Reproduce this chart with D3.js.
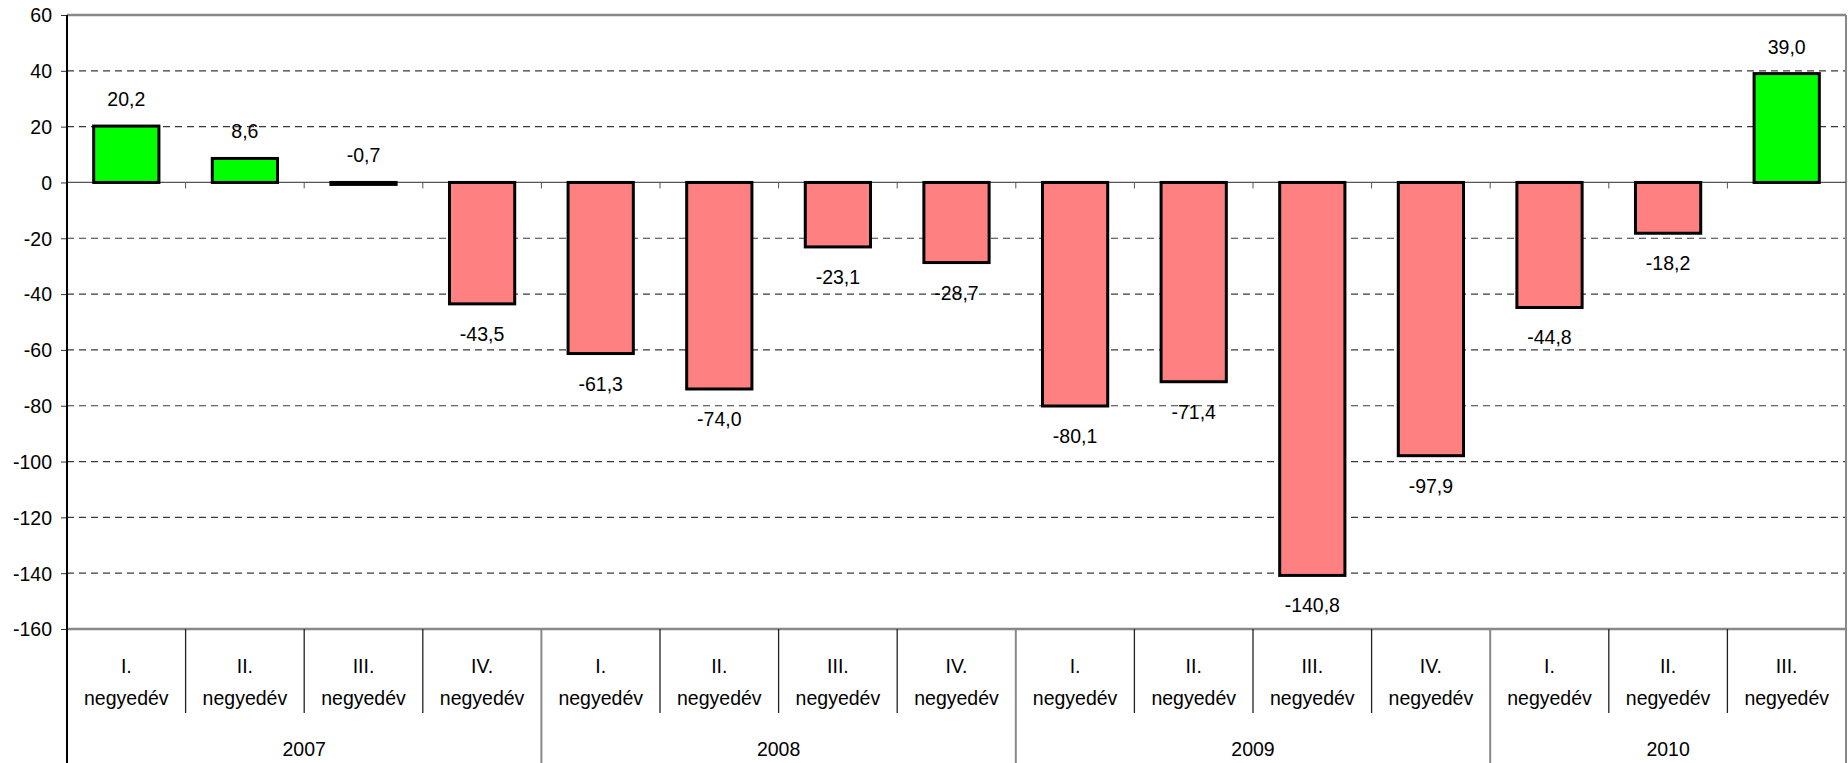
<!DOCTYPE html>
<html>
<head>
<meta charset="utf-8">
<script src="https://cdn.jsdelivr.net/npm/d3@7"></script>
<style>
body { margin: 0; background: #fff; }
text { font-family: "Liberation Sans", Arial, sans-serif; font-size: 19.5px; fill: #000; }
</style>
</head>
<body>
<div id="chart"></div>
<script>
// data
var quarters = ["I.", "II.", "III.", "IV.", "I.", "II.", "III.", "IV.", "I.", "II.", "III.", "IV.", "I.", "II.", "III."];
var years = ["2007", "2008", "2009", "2010"];
var yearSpan = [4, 4, 4, 3];
var values = [20.2, 8.6, -0.7, -43.5, -61.3, -74.0, -23.1, -28.7, -80.1, -71.4, -140.8, -97.9, -44.8, -18.2, 39.0];
var yTicks = [60, 40, 20, 0, -20, -40, -60, -80, -100, -120, -140, -160];

var svgWidth = 1848;
var svgHeight = 763;
var margin = {top: 15, right: 2, bottom: 134, left: 67};
var width = svgWidth - margin.left - margin.right;
var height = svgHeight - margin.top - margin.bottom;

var svg = d3.select("#chart")
    .append("svg")
    .attr("width", svgWidth)
    .attr("height", svgHeight);

var g = svg.append("g")
    .attr("transform", `translate(${margin.left},${margin.top})`);

var idx = values.map((d, i) => i);

var x = d3.scaleBand()
    .domain(idx)
    .range([0, width])
    .paddingInner(0.45)
    .paddingOuter(0.225);

var y = d3.scaleLinear()
    .domain([-160, 60])
    .range([height, 0]);

var step = width / values.length;

// dashed gridlines
g.selectAll(".grid")
    .data(yTicks.filter(d => d !== 0 && d !== 60 && d !== -160))
    .enter()
    .append("line")
    .attr("x1", 0)
    .attr("x2", width)
    .attr("y1", d => y(d))
    .attr("y2", d => y(d))
    .attr("stroke", "#3a3a3a")
    .attr("stroke-width", 1.2)
    .attr("stroke-dasharray", "7,5");

// frame: top, right in grey
g.append("line").attr("x1", 0).attr("x2", width).attr("y1", 0).attr("y2", 0)
    .attr("stroke", "#888").attr("stroke-width", 2.5);
g.append("line").attr("x1", width).attr("x2", width).attr("y1", 0).attr("y2", height)
    .attr("stroke", "#888").attr("stroke-width", 2);

// zero line with small ticks at category borders
g.append("line").attr("x1", 0).attr("x2", width).attr("y1", y(0)).attr("y2", y(0))
    .attr("stroke", "#555").attr("stroke-width", 1.2);
g.selectAll(".zt")
    .data(d3.range(1, values.length))
    .enter()
    .append("line")
    .attr("x1", d => d * step)
    .attr("x2", d => d * step)
    .attr("y1", y(0))
    .attr("y2", y(0) + 6)
    .attr("stroke", "#555");

// bars
g.selectAll(".bar")
    .data(values)
    .enter()
    .append("rect")
    .attr("x", (d, i) => x(i))
    .attr("width", x.bandwidth())
    .attr("y", d => y(Math.max(d, 0)))
    .attr("height", d => Math.abs(y(d) - y(0)))
    .attr("fill", d => d >= 0 ? "#00ff00" : "#ff8080")
    .attr("stroke", "#000")
    .attr("stroke-width", 3);

// value labels
var fmt = d => d.toFixed(1).replace(".", ",");
g.selectAll(".lbl")
    .data(values)
    .enter()
    .append("text")
    .attr("x", (d, i) => x(i) + x.bandwidth() / 2)
    .attr("y", d => d > -1 ? y(Math.max(d, 0)) - 20 : y(d) + 37)
    .attr("text-anchor", "middle")
    .text(fmt);

// y axis
var leftAxis = d3.axisLeft(y).tickValues(yTicks).tickSize(6).tickPadding(9).tickFormat(d3.format("d"));
var yAxis = g.append("g").call(leftAxis);
yAxis.select(".domain").remove();
yAxis.selectAll("line").attr("stroke", "#333");
yAxis.selectAll("text").style("font-size", "19.5px").attr("dy", "0.35em").text(d => String(d).replace("−", "-"));

// category axis
g.append("line").attr("x1", 0).attr("x2", width).attr("y1", height).attr("y2", height)
    .attr("stroke", "#888").attr("stroke-width", 2.5);

var cat = g.append("g").attr("transform", `translate(0,${height})`);

// quarter separators
var yearEnds = d3.cumsum(yearSpan);
cat.selectAll(".qs")
    .data(d3.range(1, values.length).filter(i => yearEnds.indexOf(i) < 0))
    .enter()
    .append("line")
    .attr("x1", d => d * step)
    .attr("x2", d => d * step)
    .attr("y1", 0)
    .attr("y2", 84)
    .attr("stroke", "#222")
    .attr("stroke-width", 1.3);

// year separators
cat.selectAll(".ys")
    .data(yearEnds)
    .enter()
    .append("line")
    .attr("x1", d => d * step)
    .attr("x2", d => d * step)
    .attr("y1", 0)
    .attr("y2", svgHeight)
    .attr("stroke", "#888")
    .attr("stroke-width", 2);

cat.selectAll(".q")
    .data(quarters)
    .enter()
    .append("text")
    .attr("x", (d, i) => (i + 0.5) * step)
    .attr("y", 44)
    .attr("text-anchor", "middle")
    .text(d => d);

cat.selectAll(".n")
    .data(quarters)
    .enter()
    .append("text")
    .attr("x", (d, i) => (i + 0.5) * step)
    .attr("y", 76)
    .attr("text-anchor", "middle")
    .text("negyedév");

cat.selectAll(".yr")
    .data(years)
    .enter()
    .append("text")
    .attr("x", (d, i) => ((yearEnds[i] - yearSpan[i]) + yearSpan[i] / 2) * step)
    .attr("y", 127)
    .attr("text-anchor", "middle")
    .text(d => d);

// left axis line, full height
svg.append("line")
    .attr("x1", margin.left).attr("x2", margin.left)
    .attr("y1", margin.top).attr("y2", svgHeight)
    .attr("stroke", "#000").attr("stroke-width", 2);
</script>
</body>
</html>
